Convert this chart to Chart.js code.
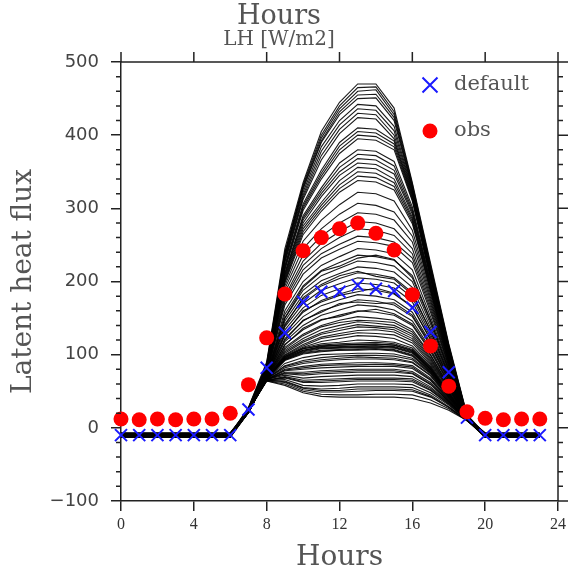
<!DOCTYPE html>
<html>
<head>
<meta charset="utf-8">
<script src="https://cdn.jsdelivr.net/npm/chart.js@4.4.0/dist/chart.umd.min.js"></script>
<style>
  body { margin: 0; background: #fff; }
</style>
</head>
<body>
<canvas id="myChart" width="570" height="575"></canvas>
<script>
// hours of the day
var hours = [0, 1, 2, 3, 4, 5, 6, 7, 8, 9, 10, 11, 12, 13, 14, 15, 16, 17, 18, 19, 20, 21, 22, 23];
var xTicks = [0, 4, 8, 12, 16, 20, 24];
var yTicks = [-100, 0, 100, 200, 300, 400, 500];

// default run (blue X)
var defaultLH = [-10, -10, -10, -10, -10, -10, -10, 25, 82, 130, 172, 186, 186, 195, 190, 187, 164, 131, 76, 14, -10, -10, -10, -10];
// observations (red dots)
var obsLH = [12, 11, 12, 11, 12, 12, 20, 59, 123, 183, 242, 260, 272, 280, 266, 243, 182, 112, 57, 22, 13, 11, 12, 12];

// ensemble members: [night value, h7, h8, h9, h10, h11, h12, h13, h14, h15, h16, h17, h18, h19]
var ensemble = [
  [-9, 28, 90, 245, 335, 405, 445, 470, 470, 437, 335, 225, 115, 18],
  [-10, 27, 88, 240, 332, 400, 440, 465, 466, 432, 333, 222, 113, 17],
  [-11, 27, 86, 238, 330, 396, 436, 460, 462, 428, 330, 220, 112, 17],
  [-8, 26, 85, 236, 328, 392, 432, 455, 456, 424, 328, 218, 110, 16],
  [-12, 26, 84, 234, 326, 390, 428, 450, 451, 420, 326, 216, 108, 16],
  [-10, 26, 84, 232, 322, 384, 420, 442, 440, 412, 324, 214, 107, 16],
  [-9, 25, 83, 230, 318, 378, 414, 436, 434, 406, 322, 212, 106, 15],
  [-13, 25, 82, 228, 315, 372, 408, 430, 428, 400, 320, 210, 105, 15],
  [-7, 25, 82, 226, 312, 366, 402, 424, 422, 395, 318, 209, 104, 15],
  [-11, 25, 81, 222, 306, 352, 390, 410, 408, 392, 316, 207, 103, 15],
  [-10, 24, 80, 220, 303, 348, 385, 405, 403, 388, 314, 206, 102, 14],
  [-8, 24, 80, 218, 300, 344, 380, 400, 398, 384, 312, 205, 101, 14],
  [-12, 24, 79, 216, 297, 340, 375, 395, 393, 380, 310, 204, 100, 14],
  [-9, 24, 79, 212, 290, 328, 362, 380, 378, 364, 302, 200, 99, 14],
  [-10, 24, 78, 210, 287, 324, 356, 374, 372, 358, 298, 198, 98, 14],
  [-11, 23, 78, 208, 284, 320, 350, 368, 366, 352, 295, 196, 97, 13],
  [-9, 23, 77, 206, 280, 316, 345, 362, 360, 347, 292, 194, 96, 13],
  [-10, 23, 77, 204, 276, 308, 338, 356, 354, 340, 288, 192, 95, 13],
  [-12, 23, 76, 202, 272, 304, 332, 350, 348, 335, 285, 190, 94, 13],
  [-8, 23, 76, 200, 268, 300, 327, 344, 342, 330, 282, 188, 93, 13],
  [-10, 23, 75, 198, 264, 296, 322, 338, 336, 325, 279, 186, 92, 13],
  [-11, 23, 75, 194, 255, 284, 305, 322, 320, 310, 270, 182, 91, 13],
  [-11, 22, 75, 190, 245, 272, 292, 307, 304, 295, 262, 178, 90, 13],
  [-10, 22, 74, 185, 236, 262, 280, 294, 292, 284, 254, 174, 89, 13],
  [-9, 22, 74, 180, 228, 252, 268, 282, 280, 272, 245, 170, 88, 13],
  [-10, 22, 74, 176, 222, 245, 260, 272, 270, 263, 238, 166, 86, 12],
  [-12, 22, 73, 172, 216, 238, 251, 262, 260, 254, 232, 162, 85, 12],
  [-8, 22, 73, 168, 210, 232, 244, 255, 253, 248, 226, 158, 84, 12],
  [-10, 22, 72, 160, 200, 222, 234, 245, 243, 238, 216, 152, 82, 12],
  [-10, 22, 73, 150, 192, 214, 221, 232, 236, 230, 205, 146, 79, 12],
  [-11, 22, 72, 155, 194, 215, 226, 236, 234, 229, 208, 147, 80, 12],
  [-9, 21, 71, 150, 188, 208, 218, 228, 226, 221, 200, 142, 78, 12],
  [-10, 21, 71, 146, 182, 201, 211, 220, 218, 213, 192, 137, 76, 12],
  [-13, 21, 70, 142, 176, 194, 204, 212, 210, 205, 185, 132, 74, 12],
  [-9, 21, 71, 140, 178, 196, 208, 214, 207, 203, 182, 133, 73, 12],
  [-7, 21, 70, 138, 170, 188, 197, 205, 203, 198, 178, 128, 72, 12],
  [-10, 21, 70, 134, 164, 181, 190, 198, 196, 191, 172, 124, 70, 12],
  [-11, 21, 70, 130, 158, 174, 183, 190, 188, 183, 165, 120, 68, 12],
  [-11, 21, 70, 128, 160, 172, 181, 186, 191, 184, 166, 121, 68, 12],
  [-9, 21, 70, 126, 152, 167, 175, 182, 180, 175, 158, 116, 66, 12],
  [-10, 21, 70, 122, 146, 160, 168, 175, 173, 168, 152, 112, 64, 12],
  [-10, 21, 70, 120, 147, 158, 170, 172, 170, 171, 154, 114, 65, 12],
  [-12, 21, 69, 118, 140, 154, 161, 168, 166, 161, 146, 108, 62, 12],
  [-12, 21, 69, 113, 136, 148, 152, 159, 162, 156, 142, 106, 61, 12],
  [-8, 21, 69, 114, 134, 147, 154, 160, 158, 154, 140, 104, 60, 12],
  [-10, 21, 69, 110, 128, 140, 147, 152, 150, 147, 134, 100, 58, 12],
  [-8, 21, 69, 108, 126, 138, 144, 147, 146, 144, 131, 99, 57, 12],
  [-11, 21, 68, 106, 122, 134, 140, 145, 143, 140, 128, 96, 56, 12],
  [-10, 21, 69, 104, 119, 130, 136, 141, 139, 137, 125, 94, 55, 12],
  [-9, 21, 68, 102, 117, 128, 133, 138, 137, 134, 122, 92, 54, 12],
  [-9, 21, 68, 100, 114, 124, 129, 133, 134, 131, 119, 90, 53, 12],
  [-10, 21, 68, 99, 112, 122, 126, 130, 129, 127, 116, 88, 52, 12],
  [-11, 22, 68, 98, 110, 118, 122, 126, 125, 122, 112, 86, 50, 12],
  [-10, 22, 68, 97, 109, 115, 117, 120, 119, 117, 109, 84, 49, 12],
  [-12, 22, 68, 97, 108, 113, 115, 116, 117, 115, 107, 83, 48, 12],
  [-12, 22, 68, 96, 108, 112, 113, 114, 114, 113, 106, 82, 48, 12],
  [-9, 22, 67, 96, 106, 111, 113, 114, 115, 113, 105, 81, 47, 12],
  [-8, 22, 68, 95, 106, 110, 111, 112, 112, 111, 104, 80, 47, 12],
  [-10, 22, 67, 94, 105, 109, 110, 111, 112, 110, 103, 80, 46, 12],
  [-10, 22, 67, 94, 104, 108, 109, 110, 110, 109, 102, 79, 46, 12],
  [-11, 22, 67, 93, 103, 106, 107, 108, 108, 107, 100, 78, 45, 12],
  [-11, 22, 67, 93, 102, 105, 106, 107, 108, 106, 99, 77, 45, 12],
  [-9, 22, 67, 92, 101, 104, 106, 106, 107, 105, 98, 76, 44, 12],
  [-10, 23, 67, 88, 96, 100, 101, 102, 102, 101, 95, 75, 43, 12],
  [-10, 22, 67, 85, 92, 96, 98, 99, 99, 98, 93, 74, 42, 12],
  [-9, 23, 67, 84, 90, 93, 95, 97, 96, 95, 90, 72, 42, 12],
  [-12, 23, 67, 82, 88, 91, 93, 94, 94, 93, 89, 71, 41, 12],
  [-8, 23, 66, 80, 84, 87, 88, 89, 89, 88, 85, 68, 40, 11],
  [-11, 23, 66, 79, 82, 85, 86, 86, 87, 86, 83, 66, 39, 11],
  [-10, 23, 66, 78, 80, 82, 83, 84, 84, 84, 81, 65, 38, 11],
  [-11, 23, 66, 76, 76, 78, 79, 80, 80, 80, 77, 62, 37, 11],
  [-10, 23, 66, 75, 74, 76, 77, 78, 78, 78, 75, 60, 36, 11],
  [-9, 23, 66, 74, 72, 74, 75, 76, 76, 76, 74, 59, 36, 11],
  [-10, 24, 66, 72, 68, 70, 71, 72, 72, 72, 70, 56, 35, 11],
  [-12, 24, 65, 69, 63, 64, 65, 66, 66, 66, 65, 52, 33, 11],
  [-13, 24, 65, 70, 65, 66, 67, 68, 68, 68, 67, 54, 34, 11],
  [-7, 24, 65, 68, 62, 62, 63, 64, 64, 64, 63, 51, 32, 11],
  [-10, 24, 65, 66, 58, 57, 58, 60, 60, 60, 59, 48, 31, 11],
  [-11, 24, 65, 64, 55, 53, 54, 56, 56, 56, 55, 45, 29, 10],
  [-8, 24, 65, 63, 54, 51, 51, 53, 53, 53, 52, 43, 28, 10],
  [-9, 24, 64, 62, 52, 49, 49, 50, 51, 51, 50, 42, 28, 10],
  [-10, 24, 64, 60, 50, 46, 45, 45, 46, 46, 45, 38, 26, 10],
  [-12, 24, 64, 58, 48, 43, 42, 42, 42, 42, 40, 34, 24, 10]
];

var textGrey = '#555';
var axisColor = '#222';

function toPoints(values) {
  return hours.map(function (h, i) { return { x: h, y: values[i] }; });
}

// night value before 7h and after 19h, daytime values in between
function memberValues(row) {
  return hours.map(function (h) { return (h < 7 || h > 19) ? row[0] : row[h - 6]; });
}

var datasets = [
  {
    label: 'obs',
    data: toPoints(obsLH),
    showLine: false,
    pointStyle: 'circle',
    pointRadius: 7.5,
    pointBackgroundColor: '#ff0000',
    pointBorderColor: '#ff0000',
    pointBorderWidth: 0,
    clip: false,
    order: 0
  },
  {
    label: 'default',
    data: toPoints(defaultLH),
    showLine: false,
    pointStyle: 'crossRot',
    pointRadius: 8.5,
    pointBorderColor: '#1a1aff',
    pointBorderWidth: 2,
    clip: false,
    order: 1
  }
];

ensemble.forEach(function (row, i) {
  datasets.push({
    label: 'member ' + (i + 1),
    data: toPoints(memberValues(row)),
    showLine: true,
    borderColor: 'rgba(0,0,0,0.9)',
    borderWidth: 1.1,
    pointRadius: 0,
    tension: 0,
    order: 2 + i
  });
});

// top and right frame, minor ticks, legend
var frameAndLegend = {
  id: 'frameAndLegend',
  afterDraw: function (chart) {
    var ctx = chart.ctx;
    var a = chart.chartArea;
    var xs = chart.scales.x;
    var ys = chart.scales.y;
    ctx.save();
    ctx.strokeStyle = axisColor;
    ctx.lineWidth = 1.5;
    ctx.beginPath();
    ctx.moveTo(a.left, a.top);
    ctx.lineTo(a.right, a.top);
    ctx.lineTo(a.right, a.bottom);
    xTicks.forEach(function (h) {
      var px = xs.getPixelForValue(h);
      ctx.moveTo(px, a.top);
      ctx.lineTo(px, a.top - 10);
    });
    for (var v = yTicks[0]; v <= yTicks[yTicks.length - 1]; v += 20) {
      var py = ys.getPixelForValue(v);
      var major = (v % 100 === 0);
      if (!major) {
        ctx.moveTo(a.left - 5, py);
        ctx.lineTo(a.left, py);
      }
      ctx.moveTo(a.right, py);
      ctx.lineTo(a.right + (major ? 10 : 5), py);
    }
    ctx.stroke();

    // legend
    var lx = 430, ly1 = 85, ly2 = 131;
    ctx.strokeStyle = '#1a1aff';
    ctx.lineWidth = 2;
    ctx.beginPath();
    ctx.moveTo(lx - 7.5, ly1 - 7.5); ctx.lineTo(lx + 7.5, ly1 + 7.5);
    ctx.moveTo(lx - 7.5, ly1 + 7.5); ctx.lineTo(lx + 7.5, ly1 - 7.5);
    ctx.stroke();
    ctx.fillStyle = '#ff0000';
    ctx.beginPath();
    ctx.arc(lx, ly2, 7.5, 0, Math.PI * 2);
    ctx.fill();
    ctx.fillStyle = textGrey;
    ctx.font = '21px "DejaVu Serif"';
    ctx.textBaseline = 'middle';
    ctx.textAlign = 'left';
    ctx.fillText('default', 454, ly1);
    ctx.fillText('obs', 454, ly2);
    ctx.restore();
  }
};

var graph = new Chart(document.getElementById('myChart'), {
  type: 'scatter',
  data: { datasets: datasets },
  options: {
    responsive: false,
    animation: false,
    devicePixelRatio: 1,
    events: [],
    layout: { padding: { left: 0, right: 12, top: 0, bottom: 0 } },
    plugins: {
      legend: { display: false },
      tooltip: { enabled: false },
      title: {
        display: true,
        text: 'Hours',
        color: textGrey,
        font: { family: '"DejaVu Serif"', size: 27, weight: 'normal', lineHeight: 1 },
        padding: { top: 3, bottom: 0 }
      },
      subtitle: {
        display: true,
        text: 'LH [W/m2]',
        color: textGrey,
        font: { family: '"DejaVu Serif"', size: 20, weight: 'normal', lineHeight: 1 },
        padding: { top: 0, bottom: 12 }
      }
    },
    scales: {
      x: {
        type: 'linear',
        position: 'bottom',
        min: 0,
        max: 24,
        afterFit: function (scale) { scale.height = 74; },
        ticks: {
          stepSize: 4,
          padding: 4,
          color: '#333',
          font: { family: '"Liberation Serif"', size: 16 },
          maxRotation: 0
        },
        grid: { display: true, drawOnChartArea: false, drawTicks: true, tickLength: 10, color: axisColor, lineWidth: 1.5 },
        border: { display: true, color: axisColor, width: 1.5 },
        title: {
          display: true,
          text: 'Hours',
          color: textGrey,
          font: { family: '"DejaVu Serif"', size: 28, lineHeight: 1 },
          padding: { top: 0, bottom: 3 }
        }
      },
      y: {
        type: 'linear',
        position: 'left',
        min: -100,
        max: 500,
        afterFit: function (scale) { scale.width = 121; },
        ticks: {
          stepSize: 100,
          padding: 12,
          color: '#444',
          font: { family: '"DejaVu Sans"', size: 18 },
          callback: function (value) { return value < 0 ? '\u2212' + Math.abs(value) : value; }
        },
        grid: { display: true, drawOnChartArea: false, drawTicks: true, tickLength: 10, color: axisColor, lineWidth: 1.5 },
        border: { display: true, color: axisColor, width: 1.5 },
        title: {
          display: true,
          text: 'Latent heat flux',
          color: textGrey,
          font: { family: '"DejaVu Serif"', size: 28, lineHeight: 1 },
          padding: { top: 10, bottom: 0 }
        }
      }
    }
  },
  plugins: [frameAndLegend]
});
</script>
</body>
</html>
